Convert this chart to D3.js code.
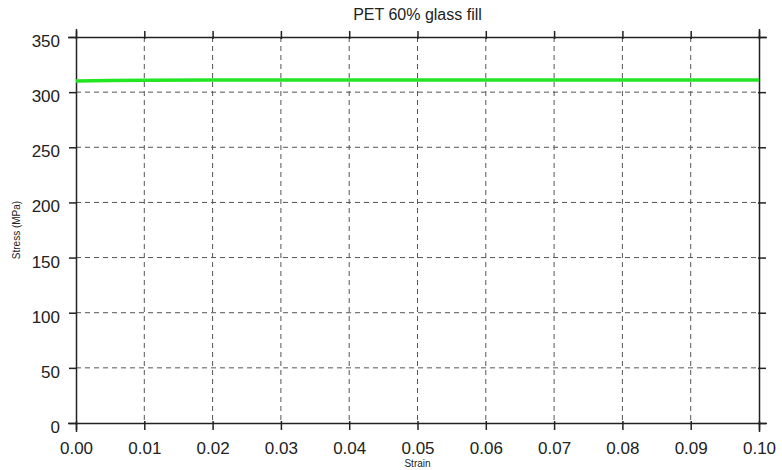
<!DOCTYPE html>
<html><head><meta charset="utf-8">
<script src="https://cdn.jsdelivr.net/npm/d3@7"></script>
<style>body{margin:0;background:#fff;} svg{display:block;font-family:"Liberation Sans",Arial,sans-serif;}</style>
</head><body>
<script>
const strain = [0.000, 0.005, 0.010, 0.020, 0.030, 0.040, 0.050, 0.060, 0.070, 0.080, 0.090, 0.100];
const stress = [310.0, 310.6, 310.8, 310.9, 311.0, 311.0, 311.0, 311.0, 311.0, 311.0, 311.0, 311.0];
const xTicks = [0,0.01,0.02,0.03,0.04,0.05,0.06,0.07,0.08,0.09,0.10];
const yTicks = [0,50,100,150,200,250,300,350];
const title = "PET 60% glass fill";
const xLabel = "Strain";
const yLabel = "Stress (MPa)";

const W=782,H=470, L=76,R=759,T=37,B=423;
const svg=d3.select("body").append("svg").attr("width",W).attr("height",H);
const x=d3.scaleLinear().domain([0,0.1]).range([L,R]);
const y=d3.scaleLinear().domain([0,350]).range([B,T]);

// grid
const g=svg.append("g");
g.selectAll(".gx").data(xTicks.slice(1,-1)).join("line")
 .attr("x1",d=>x(d)).attr("x2",d=>x(d)).attr("y1",T).attr("y2",B)
 .attr("stroke","#555").attr("stroke-width",1).attr("stroke-dasharray","5,4");
g.selectAll(".gy").data(yTicks.slice(1,-1)).join("line")
 .attr("y1",d=>y(d)).attr("y2",d=>y(d)).attr("x1",L).attr("x2",R)
 .attr("stroke","#555").attr("stroke-width",1).attr("stroke-dasharray","5,4");

const sty=a=>{a.select(".domain").attr("stroke","#222").attr("stroke-width",1.5);a.selectAll(".tick line").attr("stroke","#222").attr("stroke-width",1.5);a.selectAll("text").attr("font-size",17).attr("fill","#222");};
const fmtX=d3.format(".2f");
svg.append("g").attr("transform",`translate(0,${B})`)
 .call(d3.axisBottom(x).tickValues(xTicks).tickFormat(fmtX).tickSize(9).tickPadding(10))
 .call(sty).call(a=>a.selectAll(".tick line").attr("transform","translate(0,-2)"));
svg.append("g").attr("transform",`translate(0,${T})`)
 .call(d3.axisTop(x).tickValues(xTicks).tickFormat("").tickSize(8))
 .call(sty).call(a=>a.selectAll(".tick line").attr("transform","translate(0,2)"));
svg.append("g").attr("transform",`translate(${L},0)`)
 .call(d3.axisLeft(y).tickValues(yTicks).tickSize(8).tickPadding(8))
 .call(sty).call(a=>{a.selectAll(".tick line").attr("transform","translate(1,0)");a.selectAll("text").attr("y",4);});
svg.append("g").attr("transform",`translate(${R},0)`)
 .call(d3.axisRight(y).tickValues(yTicks).tickFormat("").tickSize(8))
 .call(sty).call(a=>a.selectAll(".tick line").attr("transform","translate(-1,0)"));

// line
svg.append("path").datum(strain.map((s,i)=>[s,stress[i]]))
 .attr("fill","none").attr("stroke","#22e622").attr("stroke-width",3.5)
 .attr("d",d3.line().x(d=>x(d[0])).y(d=>y(d[1])));

svg.append("text").attr("x",(L+R)/2).attr("y",20).attr("text-anchor","middle").attr("font-size",16).attr("fill","#222").text(title);
svg.append("text").attr("x",(L+R)/2).attr("y",467).attr("text-anchor","middle").attr("font-size",10).attr("fill","#222").text(xLabel);
svg.append("text").attr("transform",`translate(20,${(T+B)/2}) rotate(-90)`).attr("text-anchor","middle").attr("font-size",10).attr("fill","#222").text(yLabel);
</script>
</body></html>
